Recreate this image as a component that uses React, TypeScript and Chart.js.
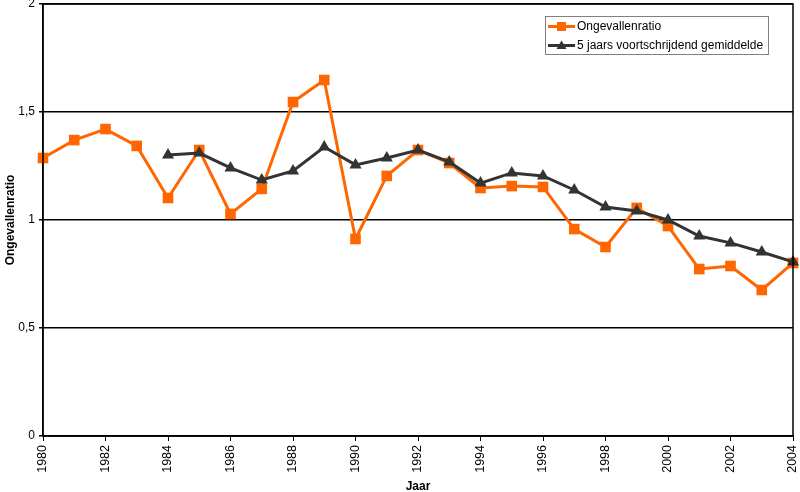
import React, { useEffect, useRef } from "react";
import { Chart, registerables } from "chart.js";

Chart.register(...registerables);

const years = [
  "1980", "1981", "1982", "1983", "1984", "1985", "1986", "1987", "1988", "1989",
  "1990", "1991", "1992", "1993", "1994", "1995", "1996", "1997", "1998", "1999",
  "2000", "2001", "2002", "2003", "2004",
];

const ongevallenratio = [
  1.287, 1.37, 1.421, 1.343, 1.102, 1.324, 1.028, 1.144, 1.546, 1.648,
  0.912, 1.204, 1.324, 1.264, 1.148, 1.157, 1.153, 0.958, 0.875, 1.056,
  0.972, 0.773, 0.787, 0.676, 0.801,
];

const voortschrijdend = [
  null, null, null, null, 1.301, 1.31, 1.241, 1.185, 1.227, 1.338,
  1.255, 1.287, 1.324, 1.269, 1.171, 1.218, 1.204, 1.139, 1.06, 1.042,
  1.0, 0.926, 0.894, 0.852, 0.806,
];

const seriesLabels = ["Ongevallenratio", "5 jaars voortschrijdend gemiddelde"];
const yTitle = "Ongevallenratio";
const xTitle = "Jaar";

const ORANGE = "#FF6600";
const DARK = "#333333";
const FONT = "'Liberation Sans', Arial, Helvetica, sans-serif";

const frameAndLegend = {
  id: "frameAndLegend",
  afterDraw(chart: any) {
    const { ctx, chartArea } = chart;
    ctx.save();
    ctx.strokeStyle = "#000";
    ctx.lineWidth = 1.5;
    ctx.strokeRect(chartArea.left, chartArea.top, chartArea.right - chartArea.left, chartArea.bottom - chartArea.top);

    const bw = 223, bh = 38;
    const bx = chartArea.right - 25 - bw;
    const by = chartArea.top + 12;
    ctx.fillStyle = "#fff";
    ctx.fillRect(bx, by, bw, bh);
    ctx.strokeStyle = "#808080";
    ctx.lineWidth = 1;
    ctx.strokeRect(bx + 0.5, by + 0.5, bw, bh);

    const ds = chart.data.datasets;
    const items = [
      { label: ds[0].label, color: ds[0].borderColor, style: "rect" },
      { label: ds[1].label, color: ds[1].borderColor, style: "triangle" },
    ];
    items.forEach((it, i) => {
      const cy = by + 10.5 + i * 19;
      ctx.strokeStyle = it.color;
      ctx.lineWidth = 3;
      ctx.beginPath();
      ctx.moveTo(bx + 3, cy);
      ctx.lineTo(bx + 30, cy);
      ctx.stroke();
      ctx.fillStyle = it.color;
      const mx = bx + 16.5;
      if (it.style === "rect") {
        ctx.fillRect(mx - 4.5, cy - 4.5, 9, 9);
      } else {
        ctx.beginPath();
        ctx.moveTo(mx, cy - 5);
        ctx.lineTo(mx + 5, cy + 3.5);
        ctx.lineTo(mx - 5, cy + 3.5);
        ctx.closePath();
        ctx.fill();
      }
      ctx.fillStyle = "#000";
      ctx.font = `12px ${FONT}`;
      ctx.textBaseline = "middle";
      ctx.textAlign = "left";
      ctx.fillText(it.label, bx + 32, cy + 0.5);
    });
    ctx.restore();
  },
};

export default function App() {
  const ref = useRef<HTMLCanvasElement | null>(null);

  useEffect(() => {
    document.body.style.margin = "0";
    const canvas = ref.current;
    if (!canvas) return;
    const chart = new Chart(canvas, {
      type: "line",
      data: {
        labels: years,
        datasets: [
          {
            label: seriesLabels[0],
            data: ongevallenratio,
            borderColor: ORANGE,
            backgroundColor: ORANGE,
            borderWidth: 3,
            pointStyle: "rect",
            pointRadius: 7.5,
            pointBorderWidth: 0,
            pointBackgroundColor: ORANGE,
            tension: 0,
            order: 1,
            clip: false,
          },
          {
            label: seriesLabels[1],
            data: voortschrijdend,
            borderColor: DARK,
            backgroundColor: DARK,
            borderWidth: 3,
            pointStyle: "triangle",
            pointRadius: 7,
            pointBorderWidth: 0,
            pointBackgroundColor: DARK,
            tension: 0,
            order: 0,
            clip: false,
            spanGaps: false,
          },
        ],
      },
      options: {
        responsive: false,
        animation: false,
        layout: { autoPadding: false, padding: { top: 4, right: 7, left: 0, bottom: 0 } },
        plugins: {
          legend: { display: false },
          tooltip: { enabled: false },
        },
        scales: {
          x: {
            type: "category",
            offset: false,
            afterFit: (s: any) => {
              s.height = 56;
              s.paddingLeft = 0;
              s.paddingRight = 0;
            },
            grid: {
              drawOnChartArea: false,
              drawTicks: true,
              tickLength: 5,
              color: "#000",
              lineWidth: 1,
            },
            border: { display: true, color: "#000", width: 1.5 },
            ticks: {
              autoSkip: false,
              minRotation: 90,
              maxRotation: 90,
              padding: 4,
              color: "#000",
              font: { family: FONT, size: 12.5 },
              callback: function (this: any, val: any, idx: number) {
                const lab = years[idx];
                return Number(lab) % 2 === 0 ? lab : null;
              },
            },
            title: {
              display: true,
              text: xTitle,
              color: "#000",
              font: { family: FONT, size: 12, weight: "bold" },
              padding: { top: 0, bottom: -2 },
            },
          },
          y: {
            min: 0,
            max: 2,
            afterFit: (s: any) => {
              s.width = 43;
              s.paddingTop = 0;
              s.paddingBottom = 0;
            },
            grid: {
              drawTicks: true,
              tickLength: 4,
              color: "#000",
              lineWidth: 1.5,
            },
            border: { display: true, color: "#000", width: 1.5 },
            ticks: {
              stepSize: 0.5,
              padding: 4,
              color: "#000",
              font: { family: FONT, size: 12 },
              callback: (v: any) => String(v).replace(".", ","),
            },
            title: {
              display: true,
              text: yTitle,
              color: "#000",
              font: { family: FONT, size: 12, weight: "bold" },
              padding: { top: 3, bottom: 0 },
            },
          },
        },
      },
      plugins: [frameAndLegend],
    });
    return () => chart.destroy();
  }, []);

  return <canvas ref={ref} width={800} height={492} style={{ display: "block" }} />;
}
